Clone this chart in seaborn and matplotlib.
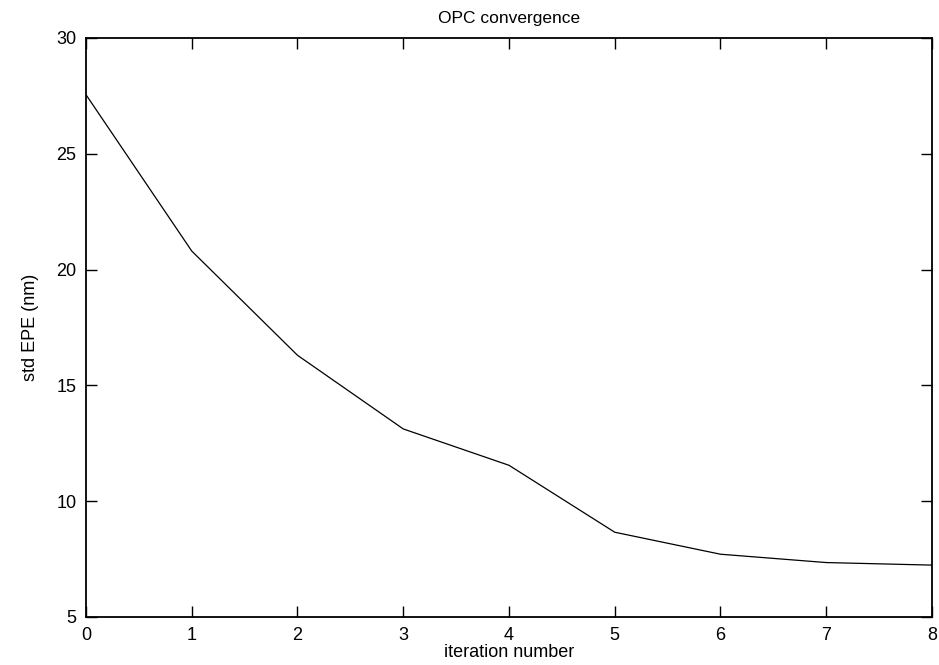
import numpy as np
import matplotlib
matplotlib.use('Agg')
import matplotlib.pyplot as plt
import seaborn as sns
import pandas as pd

iterations = [0, 1, 2, 3, 4, 5, 6, 7, 8]
std_epe = [27.55, 20.8, 16.3, 13.12, 11.55, 8.66, 7.71, 7.35, 7.24]

x_ticks = [0, 1, 2, 3, 4, 5, 6, 7, 8]
y_ticks = [5, 10, 15, 20, 25, 30]


def plot_convergence():
    sns.set_style('ticks')
    plt.rcParams['font.family'] = ['Liberation Sans', 'DejaVu Sans']
    plt.rcParams['text.color'] = 'black'
    plt.rcParams['axes.labelcolor'] = 'black'

    df = pd.DataFrame({'iteration': iterations, 'std_epe': std_epe})

    fig = plt.figure(figsize=(9.39, 6.65), dpi=100)
    ax = fig.add_axes([0.0916, 0.0722, 0.9009, 0.8707])

    sns.lineplot(data=df, x='iteration', y='std_epe', ax=ax, color='black', linewidth=0.9)

    ax.set_xlim(0, 8)
    ax.set_ylim(5, 30)
    ax.set_xticks(x_ticks)
    ax.set_yticks(y_ticks)
    ax.tick_params(direction='in', length=8, width=1, top=True, right=True,
                   labelsize=13, pad=7, colors='black')
    for s in ax.spines.values():
        s.set_linewidth(1.3)
        s.set_color('black')

    ax.set_title('OPC convergence', fontsize=12.5, pad=11, color='black')
    ax.set_xlabel('iteration number', fontsize=13, labelpad=0, color='black')
    ax.set_ylabel('std EPE (nm)', fontsize=13, labelpad=12, color='black')

    fig.savefig('out.png', dpi=100)


if __name__ == '__main__':
    plot_convergence()
